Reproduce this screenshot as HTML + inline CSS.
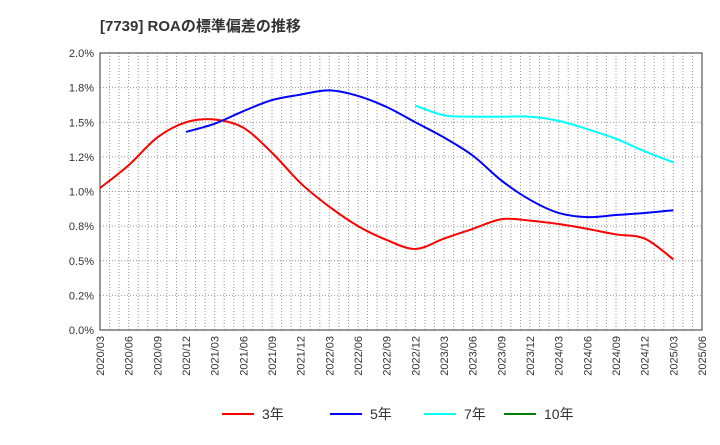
<!DOCTYPE html>
<html><head><meta charset="utf-8"><style>
body{margin:0;background:#fff;font-family:"Liberation Sans","Noto Sans CJK JP",sans-serif}
</style></head><body>
<svg id="c" width="720" height="440" xmlns="http://www.w3.org/2000/svg" font-family="Liberation Sans, Noto Sans CJK JP, sans-serif">
<text x="100" y="31" font-size="15" font-weight="bold" fill="#333">[7739]  ROAの標準偏差の推移</text>
<g id="grid"></g>
<g id="axes"></g>
<g id="series"></g>
<g id="legend"></g>
</svg>
<script>
const categories=["2020/03","2020/06","2020/09","2020/12","2021/03","2021/06","2021/09","2021/12","2022/03","2022/06","2022/09","2022/12","2023/03","2023/06","2023/09","2023/12","2024/03","2024/06","2024/09","2024/12","2025/03","2025/06"];
const yTicks=[0,0.25,0.5,0.75,1.0,1.25,1.5,1.75,2.0];
const yTickLabels=["0.0%","0.2%","0.5%","0.8%","1.0%","1.2%","1.5%","1.8%","2.0%"];
const s3=[1.025,1.19,1.39,1.50,1.52,1.46,1.28,1.06,0.89,0.75,0.65,0.585,0.66,0.73,0.80,0.79,0.765,0.73,0.69,0.66,0.51,null];
const s5=[null,null,null,1.43,1.49,1.58,1.66,1.70,1.73,1.69,1.61,1.50,1.39,1.26,1.08,0.94,0.845,0.815,0.83,0.845,0.865,null];
const s7=[null,null,null,null,null,null,null,null,null,null,null,1.62,1.55,1.54,1.54,1.54,1.51,1.45,1.38,1.29,1.21,null];
const s10=[];
const L=100,R=702,T=53,B=330,NS="http://www.w3.org/2000/svg";
const x=i=>L+(R-L)*i/(categories.length-1);
const y=v=>B-(B-T)*v/2.0;
function mk(t,a,p){const e=document.createElementNS(NS,t);for(const k in a)e.setAttribute(k,a[k]);p.appendChild(e);return e;}
const grid=document.getElementById('grid'),axes=document.getElementById('axes'),ser=document.getElementById('series'),leg=document.getElementById('legend');
for(let m=1;m<(categories.length-1)*3;m++){const xx=L+(R-L)*m/((categories.length-1)*3);
const g=mk('line',{x1:xx,x2:xx,y1:T,y2:B,stroke:'#999','stroke-dasharray':'1,2'},grid);
}
yTicks.forEach((v,i)=>{if(v>0&&v<2){const g=mk('line',{x1:L,x2:R,y1:y(v),y2:y(v),stroke:'#999','stroke-dasharray':'1,2'},grid);
}
const t=mk('text',{x:L-6,y:y(v)+4,'text-anchor':'end','font-size':11,fill:'#333'},axes);t.textContent=yTickLabels[i];
});
const fr=mk('rect',{x:L,y:T,width:R-L,height:B-T,fill:'none',stroke:'#333'},axes);

categories.forEach((c,i)=>{const t=mk('text',{transform:`translate(${x(i)+4},${B+6}) rotate(-90)`,'text-anchor':'end','font-size':11,fill:'#333'},axes);t.textContent=c;
});
function path(arr,col,name){const pts=[];arr.forEach((v,i)=>{if(v!=null)pts.push([x(i),y(v)]);});if(pts.length<2)return;
let d=`M${pts[0][0]},${pts[0][1]}`;
for(let i=0;i<pts.length-1;i++){const p0=pts[i-1]||pts[i],p1=pts[i],p2=pts[i+1],p3=pts[i+2]||p2;
d+=` C${p1[0]+(p2[0]-p0[0])/6},${p1[1]+(p2[1]-p0[1])/6} ${p2[0]-(p3[0]-p1[0])/6},${p2[1]-(p3[1]-p1[1])/6} ${p2[0]},${p2[1]}`;}
const e=mk('path',{d,fill:'none',stroke:col,'stroke-width':2},ser);}
path(s3,'#ff0000','line-3y');path(s5,'#0000ff','line-5y');path(s7,'#00ffff','line-7y');path(s10,'#008000','line-10y');
[["3年","#ff0000",222],["5年","#0000ff",330],["7年","#00ffff",424],["10年","#008000",504]].forEach(([n,c,lx])=>{
const g=mk('g',{},leg);
mk('line',{x1:lx,x2:lx+32,y1:414,y2:414,stroke:c,'stroke-width':2},g);
const t=mk('text',{x:lx+40,y:419,'font-size':14,fill:'#333'},g);t.textContent=n;});
</script>
</body></html>
